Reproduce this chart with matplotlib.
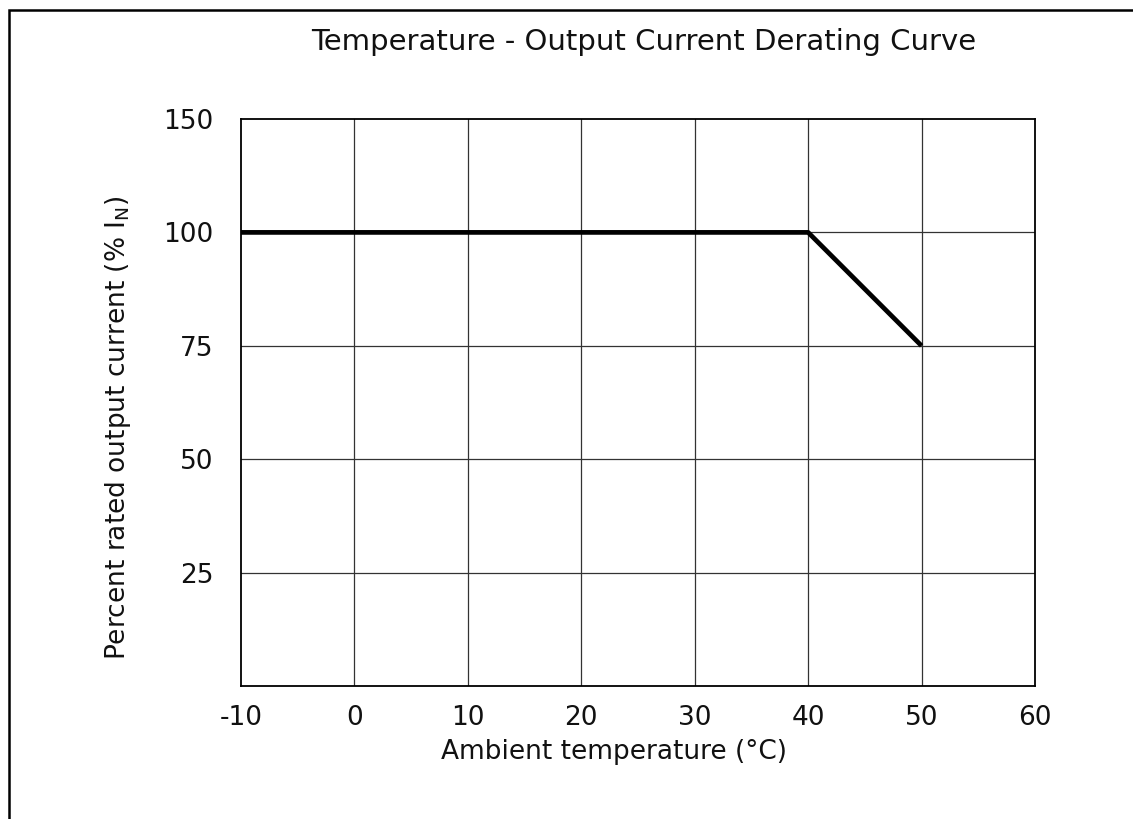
import matplotlib
matplotlib.use("Agg")
import matplotlib.pyplot as plt
import numpy as np
from matplotlib.patches import Rectangle

plt.rcParams['font.family'] = ['DejaVu Sans']

# data
temperature = [-10, 40, 50]
current_pct = [100, 100, 75]
x_ticks = [-10, 0, 10, 20, 30, 40, 50, 60]
y_ticks = [25, 50, 75, 100, 150]
title = "Temperature - Output Current Derating Curve"
xlabel = "Ambient temperature (°C)"
ylabel = "Percent rated output current (% I$_\\mathregular{N}$)"


# piecewise y scale: 0..100 linear, 100..150 compressed (150 sits one step above 100)
def fwd(y):
    y = np.asarray(y, dtype=float)
    return np.where(y <= 100, y, 100 + (y - 100) / 2)


def inv(v):
    v = np.asarray(v, dtype=float)
    return np.where(v <= 100, v, 100 + (v - 100) * 2)


W, H = 1133, 819
fig = plt.figure(figsize=(W/100, H/100), dpi=100)
ax = fig.add_axes([241/W, 1-686/H, (1035-241)/W, (686-119)/H])
ax.set_yscale('function', functions=(fwd, inv))

ax.set_xlim(-10, 60)
ax.set_ylim(0, 150)
for x in x_ticks[1:-1]:
    ax.axvline(x, color='#333333', lw=0.9, zorder=1)
for y in y_ticks[:-1]:
    ax.axhline(y, color='#333333', lw=0.9, zorder=1)
ax.plot(temperature, current_pct, color='black', lw=3.4, zorder=3, solid_capstyle='butt')

ax.set_xticks(x_ticks)
ax.set_yticks(y_ticks)
ax.set_xticklabels([str(v) for v in x_ticks])
ax.set_yticklabels([str(v) for v in y_ticks])
ax.minorticks_off()
ax.tick_params(length=0, labelsize=19, colors='#111111')
ax.tick_params(axis='x', pad=14)
ax.tick_params(axis='y', pad=20)
for s in ax.spines.values():
    s.set_linewidth(1.3)
    s.set_color('black')

fig.text(644/W, 1-42/H, title, ha='center', va='center', fontsize=21, color='#111111')
fig.text(614/W, 1-752/H, xlabel, ha='center', va='center', fontsize=19, color='#111111')
fig.text(118/W, 1-428/H, ylabel, ha='center', va='center', rotation=90, fontsize=19, color='#111111')

fig.patches.append(Rectangle((9/W, -0.05), 1.1, 1.05 - 10/H, transform=fig.transFigure,
                             fill=False, edgecolor='black', lw=1.8))

fig.savefig('out.png', dpi=100)
